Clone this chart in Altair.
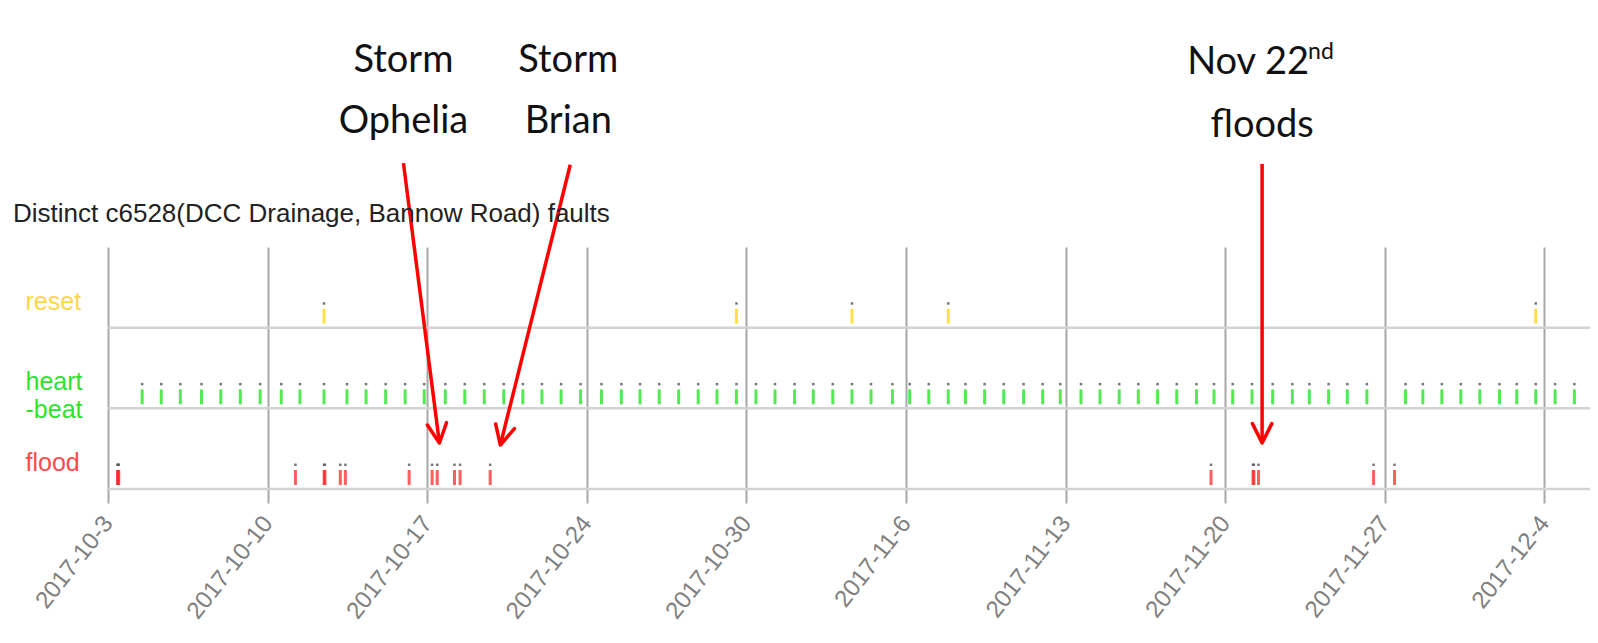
import json
import altair as alt
import pandas as pd

# ---------------- data ----------------
title_text = "Distinct c6528(DCC Drainage, Bannow Road) faults"

row_names = ["flood", "heart-beat", "reset"]          # bottom -> top
row_label_lines = [["flood"], ["heart", "-beat"], ["reset"]]
row_colors = ["#ff2020", "#10e010", "#ffd400"]
row_label_colors = ["#ff4a4a", "#2ee22e", "#ffd64a"]

heartbeat_times = [
    "2017-10-04T11:58", "2017-10-05T08:03", "2017-10-06T04:09", "2017-10-07T02:26", "2017-10-07T22:44",
    "2017-10-08T19:15", "2017-10-09T16:11", "2017-10-10T14:22", "2017-10-11T10:02", "2017-10-12T11:23",
    "2017-10-13T11:34", "2017-10-14T07:40", "2017-10-15T04:16", "2017-10-16T00:47", "2017-10-16T20:52",
    "2017-10-17T19:04", "2017-10-18T15:34", "2017-10-19T12:04", "2017-10-20T08:35", "2017-10-21T04:40",
    "2017-10-22T00:46", "2017-10-22T20:57", "2017-10-23T17:28", "2017-10-24T15:26", "2017-10-25T12:22",
    "2017-10-26T08:02", "2017-10-27T04:14", "2017-10-28T00:44", "2017-10-28T21:15", "2017-10-29T17:01",
    "2017-10-30T13:31", "2017-10-31T10:02", "2017-11-01T06:07", "2017-11-02T02:44", "2017-11-02T22:24",
    "2017-11-03T18:55", "2017-11-04T15:06", "2017-11-05T11:11", "2017-11-06T09:42", "2017-11-07T03:53",
    "2017-11-07T23:59", "2017-11-08T20:29", "2017-11-09T14:35", "2017-11-10T10:46", "2017-11-11T06:52",
    "2017-11-12T03:47", "2017-11-12T23:53", "2017-11-13T18:23", "2017-11-14T16:10", "2017-11-15T12:14",
    "2017-11-16T08:26", "2017-11-17T04:31", "2017-11-18T00:49", "2017-11-18T21:01", "2017-11-19T17:44",
    "2017-11-20T12:14", "2017-11-21T07:55", "2017-11-22T04:13", "2017-11-23T01:59", "2017-11-23T22:42",
    "2017-11-24T16:35", "2017-11-25T12:52", "2017-11-26T08:32", "2017-11-27T05:09", "2017-11-28T21:51",
    "2017-11-29T16:03", "2017-11-30T12:02", "2017-12-01T08:01", "2017-12-02T03:59", "2017-12-03T00:43",
    "2017-12-03T18:55", "2017-12-04T14:53", "2017-12-05T11:17", "2017-12-06T07:35", "2017-12-07T03:34",
]

flood_times = [
    "2017-10-03T10:00", "2017-10-03T10:40", "2017-10-03T11:20", "2017-10-11T05:18", "2017-10-12T11:30",
    "2017-10-12T12:20", "2017-10-13T04:31", "2017-10-13T09:53", "2017-10-16T04:59", "2017-10-17T05:10",
    "2017-10-17T10:32", "2017-10-18T04:44", "2017-10-18T10:37", "2017-10-19T18:17", "2017-11-20T09:05",
    "2017-11-22T05:20", "2017-11-22T06:10", "2017-11-22T11:03", "2017-11-27T12:11", "2017-11-28T10:16",
]

reset_times = [
    "2017-10-12T11:23", "2017-10-30T13:31", "2017-11-04T15:06", "2017-11-08T20:29", "2017-12-04T14:53",
]

tick_dates = ["2017-10-03", "2017-10-10", "2017-10-17", "2017-10-24", "2017-10-31",
              "2017-11-07", "2017-11-14", "2017-11-21", "2017-11-28", "2017-12-05"]
tick_labels = ["2017-10-3", "2017-10-10", "2017-10-17", "2017-10-24", "2017-10-30",
               "2017-11-6", "2017-11-13", "2017-11-20", "2017-11-27", "2017-12-4"]

# annotations (arrows point at flood events)
arrow_names = ["Storm Ophelia", "Storm Brian", "Nov 22nd floods"]
arrow_from_time = ["2017-10-15T23:00", "2017-10-23T06:36", "2017-11-22T14:51"]
arrow_from_level = [4.04, 4.02, 4.03]
arrow_to_time = ["2017-10-17T12:51", "2017-10-20T05:00", "2017-11-22T14:51"]
arrow_to_level = [0.57, 0.545, 0.57]
arrow_head_angle = [352.7, 14.0, 0.0]

note_texts = ["Storm", "Ophelia", "Storm", "Brian", "floods"]
note_times = ["2017-10-15T23:00", "2017-10-15T23:00", "2017-10-23T04:30", "2017-10-23T04:30",
              "2017-11-22T14:51"]
note_levels = [5.17, 4.41, 5.17, 4.41, 4.36]

nov_texts = ["Nov 22"]
nov_times = ["2017-11-22T14:51"]
nov_levels = [5.14]
sup_texts = ["nd"]
sup_levels = [5.33]


def z(ts):
    return ts + ":00Z"


# ---------------- tables ----------------
events = pd.DataFrame({
    "time": [z(t) for t in flood_times + heartbeat_times + reset_times],
    "kind": ["flood"] * len(flood_times) + ["heart-beat"] * len(heartbeat_times)
            + ["reset"] * len(reset_times),
})
events["row"] = events["kind"].map({n: i for i, n in enumerate(row_names)})

rows_df = pd.DataFrame({"row": list(range(len(row_names)))})

arrows = pd.DataFrame({
    "name": arrow_names,
    "t0": [z(t) for t in arrow_from_time],
    "y0": arrow_from_level,
    "t1": [z(t) for t in arrow_to_time],
    "y1": arrow_to_level,
    "ang": arrow_head_angle,
})
notes = pd.DataFrame({"text": note_texts, "when": [z(t) for t in note_times], "level": note_levels})
nov = pd.DataFrame({"text": nov_texts, "when": [z(t) for t in nov_times], "level": nov_levels})
sup = pd.DataFrame({"text": sup_texts, "when": [z(t) for t in nov_times], "level": sup_levels})

# ---------------- scales / axes ----------------
def dt(s):
    return alt.DateTime(year=int(s[:4]), month=int(s[5:7]), date=int(s[8:10]), utc=True)

xscale = alt.Scale(type="utc", domain=[dt("2017-10-03"), dt("2017-12-07")])
label_expr = json.dumps(tick_labels) + "[round((datum.value - utc(2017, 9, 3)) / 604800000)]"
xaxis = alt.Axis(
    values=[dt(d) for d in tick_dates], labelExpr=label_expr, title=None,
    grid=True, gridColor="#a8a8a8", gridWidth=2,
    domain=False, ticks=True, tickSize=14, tickColor="#a8a8a8", tickWidth=2,
    labelAngle=-52, labelFont="Liberation Sans", labelFontSize=24, labelColor="#808080",
    labelPadding=16, labelFlush=False, labelOverlap=False,
)

yscale = alt.Scale(domain=[0, len(row_names)], nice=False, zero=False)
y_label_expr = json.dumps(row_label_lines) + "[floor(datum.value)]"
yaxis = alt.Axis(
    values=[i + 0.33 for i in range(len(row_names))], labelExpr=y_label_expr, title=None,
    grid=False, ticks=False, domain=False,
    labelAlign="left", labelBaseline="middle", labelPadding=83,
    labelFont="Liberation Sans", labelFontSize=25, labelLineHeight=28,
    labelColor={"condition": [{"test": "datum.value < 1", "value": row_label_colors[0]},
                              {"test": "datum.value < 2", "value": row_label_colors[1]}],
                "value": row_label_colors[2]},
)

X = lambda f: alt.X(f, scale=xscale, axis=xaxis)
Y = lambda f: alt.Y(f, scale=yscale, axis=yaxis)

# ---------------- layers ----------------
hlines = alt.Chart(rows_df).mark_rule(color="#d3d3d3", strokeWidth=2.5).encode(y=Y("row:Q"))

base = alt.Chart(events).transform_calculate(
    lo="datum.row + 0.05", hi="datum.row + 0.235", dot="datum.row + 0.30"
)
bars = base.mark_rule(strokeWidth=3, opacity=0.72).encode(
    x=X("time:T"), y=Y("lo:Q"), y2="hi:Q",
    color=alt.Color("kind:N", scale=alt.Scale(domain=row_names, range=row_colors), legend=None),
)
dots = base.mark_square(size=6, color="#505050", opacity=0.8).encode(x=X("time:T"), y=Y("dot:Q"))

shafts = alt.Chart(arrows).mark_rule(color="#ff0000", strokeWidth=3.5).encode(
    x=X("t0:T"), x2="t1:T", y=Y("y0:Q"), y2="y1:Q"
)
heads = alt.Chart(arrows).mark_point(
    shape="M-0.5,-1L0,0L0.5,-1", filled=False, color="#ff0000", strokeWidth=3.5,
    size=1500, opacity=1, strokeCap="round", strokeJoin="round",
).encode(x=X("t1:T"), y=Y("y1:Q"), angle=alt.Angle("ang:Q", scale=None))

note_layer = alt.Chart(notes).mark_text(
    font="Lato", fontSize=38, color="#111111", align="center", baseline="alphabetic"
).encode(x=X("when:T"), y=Y("level:Q"), text="text:N")
nov_layer = alt.Chart(nov).mark_text(
    font="Lato", fontSize=38, color="#111111", align="center", baseline="alphabetic", dx=-14
).encode(x=X("when:T"), y=Y("level:Q"), text="text:N")
sup_layer = alt.Chart(sup).mark_text(
    font="Lato", fontSize=23, color="#111111", align="left", baseline="alphabetic", dx=46
).encode(x=X("when:T"), y=Y("level:Q"), text="text:N")

chart = alt.layer(
    hlines, bars, dots, shafts, heads, note_layer, nov_layer, sup_layer
).properties(
    width=1482, height=242,
    padding={"left": 100, "top": 239, "right": 0, "bottom": 146},
    autosize=alt.AutoSizeParams(type="none"),
    background="white",
    title=alt.TitleParams(
        text=title_text, orient="top", anchor="start", frame="group",
        font="Liberation Sans", fontSize=26, fontWeight="normal", color="#222222",
        dx=-95, dy=210, offset=24,
    ),
).configure_view(stroke="transparent")

chart.save("out.html", embed_options={"renderer": "svg", "actions": False})
